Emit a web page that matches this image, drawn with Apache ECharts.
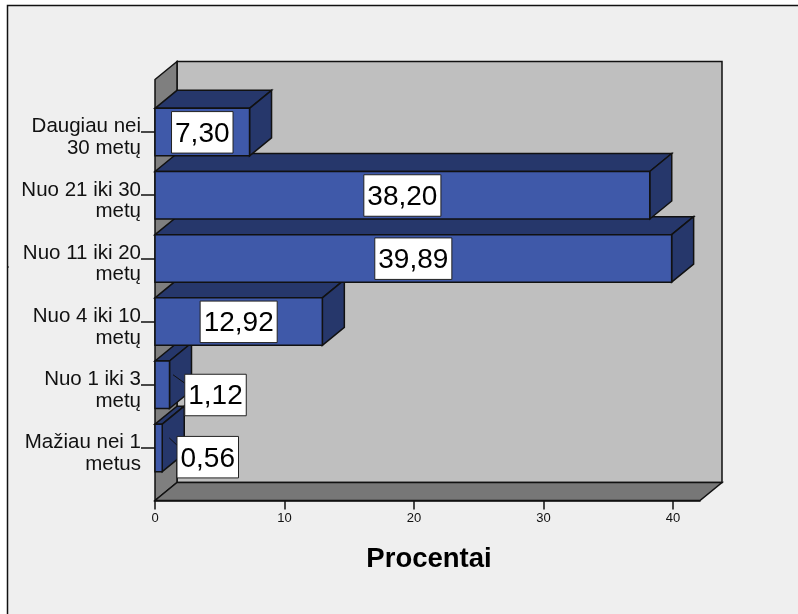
<!DOCTYPE html>
<html>
<head>
<meta charset="utf-8">
<style>html,body{margin:0;padding:0;background:#fff}#c{width:798px;height:614px}</style>
<script src="https://cdn.jsdelivr.net/npm/echarts@6/dist/echarts.min.js"></script>
</head>
<body>
<div id="c"></div>
<script>
const categories = ['Mažiau nei 1\nmetus', 'Nuo 1 iki 3\nmetų', 'Nuo 4 iki 10\nmetų', 'Nuo 11 iki 20\nmetų', 'Nuo 21 iki 30\nmetų', 'Daugiau nei\n30 metų'];
const values = [0.56, 1.12, 12.92, 39.89, 38.20, 7.30];
const valueLabels = ['0,56', '1,12', '12,92', '39,89', '38,20', '7,30'];
const xTicks = [0, 10, 20, 30, 40];
const axisTitle = 'Procentai';

const FONT = '"Liberation Sans", Arial, sans-serif';
const INK = '#111111';
const DX = 22, DY = 18;          // depth of the 3D projection
const BAR_H = 47.5;
const FRONT = '#3f59a9', DARK = '#26376b';
const LABEL_FONT = '28px ' + FONT;
// labels pulled off small bars, with leader line [box offset from bar end]
const pulled = { 0: { dx: 45.5, dy: 9, lead: 7 }, 1: { dx: 46, dy: 10, lead: 3.5 } };

const chart = echarts.init(document.getElementById('c'), null, { renderer: 'canvas' });
const measure = document.createElement('canvas').getContext('2d');
measure.font = LABEL_FONT;

function poly(points, fill, z2) {
  return { type: 'polygon', z2: z2 || 0, shape: { points },
    style: { fill, stroke: INK, lineWidth: 1.5, lineJoin: 'miter' } };
}

function renderWalls(params) {
  const c = params.coordSys;
  const l = c.x, r = c.x + c.width, t = c.y - DY - 3, b = c.y + c.height + 21;
  return { type: 'group', children: [
    poly([[l + DX, t - DY], [r + DX, t - DY], [r + DX, b - DY], [l + DX, b - DY]], '#bfbfbf'),
    poly([[l, t], [l + DX, t - DY], [l + DX, b - DY], [l, b]], '#7f7f7f'),
    poly([[l, b], [l + DX, b - DY], [r + DX, b - DY], [r, b]], '#777777')
  ] };
}

function renderBar(params, api) {
  const v = api.value(0), i = api.value(1);
  const end = api.coord([v, i]), start = api.coord([0, i]);
  const x0 = start[0], x1 = end[0], y0 = end[1] - BAR_H / 2, y1 = end[1] + BAR_H / 2;
  return { type: 'group', children: [
    poly([[x0, y0], [x0 + DX, y0 - DY], [x1 + DX, y0 - DY], [x1, y0]], DARK),
    poly([[x1, y0], [x1 + DX, y0 - DY], [x1 + DX, y1 - DY], [x1, y1]], DARK),
    poly([[x0, y0], [x1, y0], [x1, y1], [x0, y1]], FRONT)
  ] };
}

function renderLabel(params, api) {
  const v = api.value(0), i = api.value(1);
  const end = api.coord([v, i]), start = api.coord([0, i]);
  const p = pulled[i];
  const cx = p ? end[0] + p.dx : (start[0] + end[0]) / 2;
  const cy = p ? end[1] + p.dy : end[1];
  const children = [];
  if (p) {
    children.push({ type: 'line', shape: { x1: end[0] + p.lead, y1: end[1] - 10, x2: cx - 30, y2: cy - 11 },
      style: { stroke: INK, lineWidth: 1 } });
  }
  const w = measure.measureText(valueLabels[i]).width + 7;
  children.push({ type: 'rect', shape: { x: cx - w / 2, y: cy - 20.5, width: w, height: 41.5 },
    style: { fill: '#ffffff', stroke: '#222', lineWidth: 1 } });
  children.push({ type: 'text', x: cx, y: cy + 2, style: {
    text: valueLabels[i], fill: '#000', font: LABEL_FONT, align: 'center', verticalAlign: 'middle'
  } });
  // category name, set a little below its tick as in the source chart
  children.push({ type: 'text', x: start[0] - 14, y: end[1] + 5.5, style: {
    text: categories[i], fill: '#111', font: '20.5px ' + FONT, lineHeight: 21.7, align: 'right', verticalAlign: 'middle'
  } });
  return { type: 'group', children };
}

const barData = values.map((v, i) => [v, i]);

chart.setOption({
  animation: false,
  backgroundColor: '#ffffff',
  graphic: [
    { type: 'rect', z: -10, shape: { x: 7.5, y: 5.5, width: 820, height: 640 },
      style: { fill: '#efefef', stroke: INK, lineWidth: 1.5 } },
    { type: 'line', z: -10, shape: { x1: 7, y1: 267, x2: 9, y2: 267 }, style: { stroke: INK, lineWidth: 1 } }
  ],
  grid: { left: 155, top: 100.5, width: 545, height: 379 },
  xAxis: {
    type: 'value', min: 0, max: 42.08, offset: 21,
    splitLine: { show: false },
    axisLine: { show: true, lineStyle: { color: INK, width: 1.5 } },
    axisTick: { show: true, customValues: xTicks, length: 9, lineStyle: { color: INK, width: 1.5 } },
    axisLabel: { customValues: xTicks, color: '#111', fontFamily: FONT, fontSize: 13, margin: 11 },
    name: axisTitle, nameLocation: 'middle', nameGap: 45,
    nameTextStyle: { color: '#000', fontFamily: FONT, fontSize: 27.5, fontWeight: 'bold', padding: [0, 0, 0, 3] }
  },
  yAxis: {
    type: 'category', data: categories,
    axisLine: { show: false },
    axisTick: { show: true, alignWithLabel: true, length: 14, lineStyle: { color: INK, width: 1.5 } },
    axisLabel: { show: false }
  },
  series: [
    { type: 'custom', z: 1, clip: false, silent: true, data: [[0, 0]], encode: { x: 0, y: 1 }, renderItem: renderWalls },
    { type: 'custom', z: 2, clip: false, silent: true, data: barData, encode: { x: 0, y: 1 }, renderItem: renderBar },
    { type: 'custom', z: 3, clip: false, silent: true, data: barData, encode: { x: 0, y: 1 }, renderItem: renderLabel }
  ]
});
</script>
</body>
</html>
